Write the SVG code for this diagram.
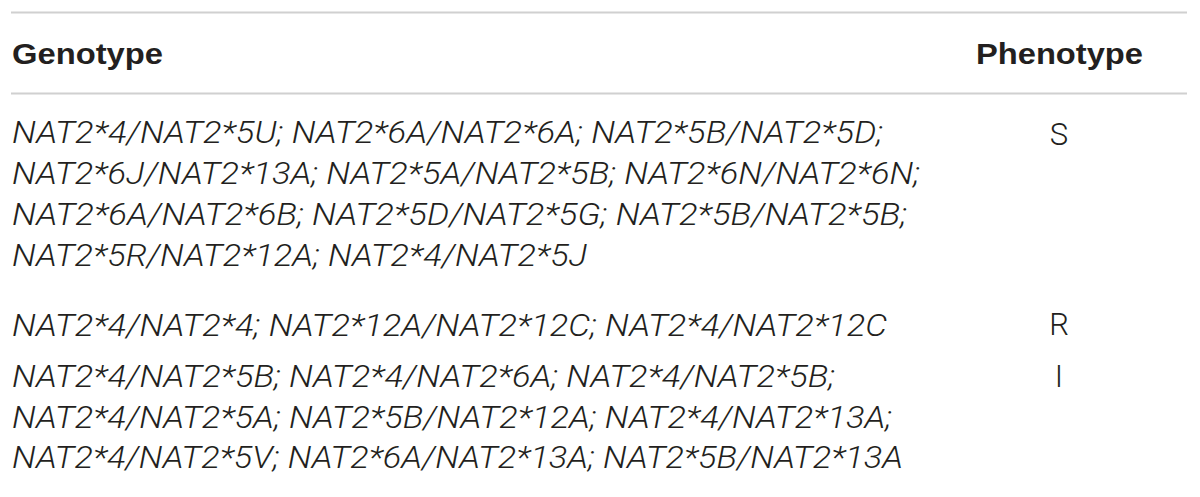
<svg xmlns="http://www.w3.org/2000/svg" width="1200" height="497" viewBox="0 0 1200 497">
<style>
.rule{stroke:#d0d0d0;stroke-width:2;fill:none}
.hd{font-family:"Liberation Sans",Arial,sans-serif;font-weight:bold;font-size:29px;fill:#231f20}
.gt{font-family:Roboto,"Liberation Sans",sans-serif;font-weight:300;font-style:italic;font-size:31px;fill:#231f20}
.ph{font-family:Roboto,"Liberation Sans",sans-serif;font-weight:300;font-size:31px;fill:#231f20;text-anchor:middle}
</style>
<rect width="1200" height="497" fill="#ffffff"/>
<g id="rules">
<line class="rule" x1="11" y1="12.5" x2="1187" y2="12.5"/>
<line class="rule" x1="11" y1="93.5" x2="1187" y2="93.5"/>
</g>
<g id="header">
<text class="hd" x="12" y="64" textLength="151" lengthAdjust="spacingAndGlyphs">Genotype</text>
<text class="hd" x="976" y="64" textLength="167" lengthAdjust="spacingAndGlyphs">Phenotype</text>
</g>
<g id="row-S">
<text class="gt" x="12" y="143" textLength="871" lengthAdjust="spacingAndGlyphs">NAT2*4/NAT2*5U; NAT2*6A/NAT2*6A; NAT2*5B/NAT2*5D;</text>
<text class="gt" x="12" y="184" textLength="908" lengthAdjust="spacingAndGlyphs">NAT2*6J/NAT2*13A; NAT2*5A/NAT2*5B; NAT2*6N/NAT2*6N;</text>
<text class="gt" x="12" y="225" textLength="895" lengthAdjust="spacingAndGlyphs">NAT2*6A/NAT2*6B; NAT2*5D/NAT2*5G; NAT2*5B/NAT2*5B;</text>
<text class="gt" x="12" y="266" textLength="575" lengthAdjust="spacingAndGlyphs">NAT2*5R/NAT2*12A; NAT2*4/NAT2*5J</text>
<text class="ph" x="1059" y="145">S</text>
</g>
<g id="row-R">
<text class="gt" x="12" y="336" textLength="875" lengthAdjust="spacingAndGlyphs">NAT2*4/NAT2*4; NAT2*12A/NAT2*12C; NAT2*4/NAT2*12C</text>
<text class="ph" x="1059" y="335">R</text>
</g>
<g id="row-I">
<text class="gt" x="12" y="387" textLength="823" lengthAdjust="spacingAndGlyphs">NAT2*4/NAT2*5B; NAT2*4/NAT2*6A; NAT2*4/NAT2*5B;</text>
<text class="gt" x="12" y="428" textLength="880" lengthAdjust="spacingAndGlyphs">NAT2*4/NAT2*5A; NAT2*5B/NAT2*12A; NAT2*4/NAT2*13A;</text>
<text class="gt" x="12" y="468" textLength="891" lengthAdjust="spacingAndGlyphs">NAT2*4/NAT2*5V; NAT2*6A/NAT2*13A; NAT2*5B/NAT2*13A</text>
<text class="ph" x="1059" y="387">I</text>
</g>
</svg>
